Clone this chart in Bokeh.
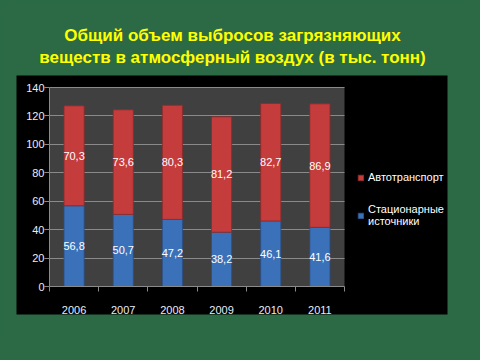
from bokeh.plotting import figure
from bokeh.models import (Range1d, LinearAxis, FixedTicker, BoxAnnotation, Label,
                          Legend, LegendItem, ColumnDataSource, Grid)
from bokeh.core.properties import value
from bokeh.embed import file_html
from bokeh.resources import INLINE

# ---- data ----
years = [2006, 2007, 2008, 2009, 2010, 2011]
stationary = [56.8, 50.7, 47.2, 38.2, 46.1, 41.6]
transport = [70.3, 73.6, 80.3, 81.2, 82.7, 86.9]
y_ticks = [0, 20, 40, 60, 80, 100, 120, 140]
series_names = ["Стационарные\nисточники", "Автотранспорт"]
title_lines = ["Общий объем выбросов загрязняющих",
               "веществ в атмосферный воздух (в тыс. тонн)"]

# ---- style / layout ----
BG = "#2b6a45"
PANEL = "#000000"
PLOT_BG = "#404040"
GRID = "#8a8a8a"
BLUE = "#3b71b8"
RED = "#c43c3c"
BLUE_EDGE = "#2a4f86"
RED_EDGE = "#8c2a2a"
FONT = "Liberation Sans"

W, H = 464, 344
PLOT_L, PLOT_R, PLOT_T, PLOT_B = 49, 344, 87, 286
PANEL_L, PANEL_R, PANEL_T, PANEL_B = 16, 447, 75, 314

x_lo, x_hi = years[0] - 0.5, years[-1] + 0.5
y_lo, y_hi = y_ticks[0], y_ticks[-1]
kx = (PLOT_R - PLOT_L) / (x_hi - x_lo)
ky = (PLOT_B - PLOT_T) / (y_hi - y_lo)


def px_x(px):
    return x_lo + (px - PLOT_L) / kx


def px_y(py):
    return y_lo + (PLOT_B - py) / ky


p = figure(width=W, height=H,
           x_range=Range1d(px_x(0), px_x(W)), y_range=Range1d(px_y(H), px_y(0)),
           x_axis_type=None, y_axis_type=None, toolbar_location=None,
           output_backend="svg", min_border=0, title_location=None)
p.background_fill_color = BG
p.border_fill_color = BG
p.outline_line_color = None

# black chart panel and grey plot area
p.add_layout(BoxAnnotation(left=px_x(PANEL_L), right=px_x(PANEL_R),
                           top=px_y(PANEL_T), bottom=px_y(PANEL_B),
                           fill_color=PANEL, fill_alpha=1, line_color=None, level="image"))
p.add_layout(BoxAnnotation(left=x_lo, right=x_hi, top=y_hi, bottom=y_lo,
                           fill_color=PLOT_BG, fill_alpha=1, line_color=None, level="image"))

# horizontal grid lines, limited to the plot area
if "cross_bounds" in Grid.properties():
    grid = Grid(dimension=1, ticker=FixedTicker(ticks=y_ticks[1:]), bounds=(y_lo, y_hi),
                cross_bounds=(x_lo, x_hi), grid_line_color=GRID, grid_line_width=1)
    p.add_layout(grid)
else:
    gy = y_ticks[1:]
    p.segment(x0=[x_lo] * len(gy), x1=[x_hi] * len(gy), y0=gy, y1=gy,
              line_color=GRID, line_width=1)

# axes
yaxis = LinearAxis(fixed_location=x_lo, ticker=FixedTicker(ticks=y_ticks), bounds=(y_lo, y_hi),
                   axis_line_color=GRID, major_tick_line_color=GRID, major_tick_out=5,
                   major_tick_in=0, minor_tick_line_color=None,
                   major_label_text_color="#e8eefa", major_label_text_font_size="11px",
                   major_label_text_font=FONT, major_label_standoff=0)
p.add_layout(yaxis, "left")

boundaries = [y - 0.5 for y in years] + [years[-1] + 0.5]
xaxis = LinearAxis(fixed_location=y_lo, ticker=FixedTicker(ticks=years, minor_ticks=boundaries),
                   bounds=(x_lo, x_hi), axis_line_color=GRID,
                   major_tick_line_color=None, major_tick_out=0, major_tick_in=0,
                   minor_tick_line_color=GRID, minor_tick_out=5, minor_tick_in=0,
                   major_label_text_color="#e8eefa", major_label_text_font_size="11px",
                   major_label_text_font=FONT, major_label_standoff=14)
p.add_layout(xaxis, "below")

# bars
src = ColumnDataSource(dict(year=years, stationary=stationary, transport=transport))
r_stat, r_trans = p.vbar_stack(["stationary", "transport"], x="year", width=0.41, source=src,
                               fill_color=[BLUE, RED], line_color=[BLUE_EDGE, RED_EDGE],
                               line_width=1, line_alpha=0.8)

# value labels
lab_src = ColumnDataSource(dict(
    x=years + years,
    y=[s / 2 for s in stationary] + [s + t / 2 for s, t in zip(stationary, transport)],
    t=[f"{v:.1f}".replace(".", ",") for v in stationary + transport]))
p.text(x="x", y="y", text="t", source=lab_src, text_color="white", text_font_size="11px",
       text_align="center", text_baseline="middle", text_font=value(FONT))

# legend
legend = Legend(items=[LegendItem(label=series_names[1], renderers=[r_trans]),
                       LegendItem(label=series_names[0], renderers=[r_stat])],
                location=(357, 117), orientation="vertical",
                background_fill_alpha=0, border_line_color=None, padding=0, margin=0,
                spacing=19, glyph_width=7, glyph_height=7, label_standoff=4,
                label_height=14, label_text_color="white", label_text_font_size="11px",
                label_text_font=FONT, label_text_line_height=1.3)
p.add_layout(legend)

# title
for i, line in enumerate(title_lines):
    p.add_layout(Label(x=px_x(232), y=px_y(35 + i * 22), text=line, text_align="center",
                       text_baseline="alphabetic", text_color="#ffff00",
                       text_font_size="17px", text_font_style="bold", text_font=FONT))

html = file_html(p, INLINE)
html = html.replace("</head>", "<style>html,body{background:%s;}</style></head>" % BG, 1)
open("out.html", "w").write(html)
